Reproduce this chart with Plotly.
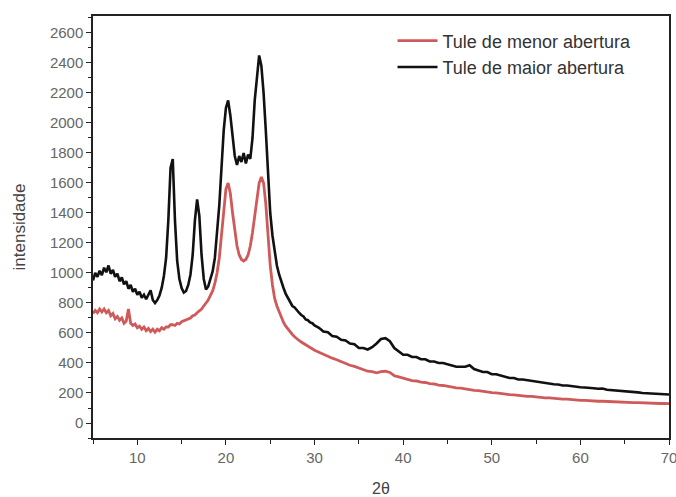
import plotly.graph_objects as go

two_theta = [
    5.00, 5.25, 5.50, 5.75, 6.00, 6.25, 6.50, 6.75, 7.00, 7.25, 7.50, 7.75,
    8.00, 8.25, 8.50, 8.75, 9.00, 9.25, 9.50, 9.75, 10.00, 10.25, 10.50, 10.75,
    11.00, 11.25, 11.50, 11.75, 12.00, 12.25, 12.50, 12.75, 13.00, 13.25, 13.50, 13.75,
    14.00, 14.25, 14.50, 14.75, 15.00, 15.25, 15.50, 15.75, 16.00, 16.25, 16.50, 16.75,
    17.00, 17.25, 17.50, 17.75, 18.00, 18.25, 18.50, 18.75, 19.00, 19.25, 19.50, 19.75,
    20.00, 20.25, 20.50, 20.75, 21.00, 21.25, 21.50, 21.75, 22.00, 22.25, 22.50, 22.75,
    23.00, 23.25, 23.50, 23.75, 24.00, 24.25, 24.50, 24.75, 25.00, 25.25, 25.50, 25.75,
    26.00, 26.25, 26.50, 26.75, 27.00, 27.25, 27.50, 27.75, 28.00, 28.25, 28.50, 28.75,
    29.00, 29.25, 29.50, 29.75, 30.00,
    30.5, 31.0, 31.5, 32.0, 32.5, 33.0, 33.5, 34.0, 34.5, 35.0, 35.5, 36.0,
    36.5, 37.0, 37.5, 38.0, 38.5, 39.0, 39.5, 40.0, 40.5, 41.0, 41.5, 42.0,
    42.5, 43.0, 43.5, 44.0, 44.5, 45.0, 45.5, 46.0, 46.5, 47.0, 47.5, 48.0,
    48.5, 49.0, 49.5, 50.0, 50.5, 51.0, 51.5, 52.0, 52.5, 53.0, 53.5, 54.0,
    54.5, 55.0, 55.5, 56.0, 56.5, 57.0, 57.5, 58.0, 58.5, 59.0, 59.5, 60.0,
    60.5, 61.0, 61.5, 62.0, 62.5, 63.0, 63.5, 64.0, 64.5, 65.0, 65.5, 66.0,
    66.5, 67.0, 67.5, 68.0, 68.5, 69.0, 69.5, 70.0,
]

maior_abertura = [
    950, 1000, 975, 1015, 985, 1035, 1005, 1050, 995, 1020, 975, 995,
    945, 970, 925, 945, 895, 920, 875, 895, 855, 875, 835, 855,
    825, 860, 885, 820, 800, 820, 850, 900, 980, 1100, 1350, 1700,
    1760, 1350, 1080, 960, 900, 870, 880, 920, 990, 1120, 1350, 1490,
    1380, 1120, 960, 890, 910, 960, 1010, 1100, 1250, 1450, 1700, 1950,
    2100, 2150, 2050, 1900, 1780, 1720, 1780, 1740, 1800, 1730, 1790, 1760,
    1900, 2150, 2300, 2450, 2380, 2200, 1950, 1650, 1400, 1250, 1130, 1050,
    990, 940, 900, 860, 830, 810, 780, 770, 750, 735, 720, 710,
    690, 685, 670, 665, 650,
    635, 610, 605, 580, 575, 555, 550, 530, 525, 500, 500, 490,
    505, 530, 560, 565, 545, 500, 475, 455, 455, 440, 440, 425,
    425, 410, 410, 400, 400, 390, 385, 375, 375, 375, 385, 360,
    350, 340, 340, 325, 325, 315, 310, 300, 300, 290, 290, 285,
    282, 275, 272, 265, 263, 258, 257, 250, 250, 245, 243, 238,
    237, 232, 232, 228, 230, 222, 220, 215, 214, 210, 209, 205,
    204, 200, 199, 196, 196, 193, 193, 190,
]

menor_abertura = [
    730, 750, 735, 760, 740, 760, 735, 750, 715, 730, 695, 710,
    685, 700, 665, 680, 760, 665, 650, 660, 635, 645, 625, 640,
    615, 630, 610, 625, 605, 625, 615, 635, 625, 640, 640, 655,
    655, 650, 665, 660, 675, 680, 690, 695, 700, 715, 720, 735,
    745, 760, 780, 800, 820, 850, 880, 930, 1000, 1100, 1250, 1420,
    1560, 1600, 1530, 1400, 1270, 1180, 1120, 1090, 1080, 1090, 1120, 1180,
    1270, 1380, 1500, 1600, 1640, 1600, 1460, 1250, 1050, 920, 830, 780,
    740, 700, 670, 645, 625, 605, 590, 575, 560, 550, 540, 530,
    520, 510, 500, 492, 485,
    472, 458, 448, 432, 422, 408, 398, 385, 377, 365, 357, 345,
    342, 335, 342, 345, 337, 315, 307, 298, 292, 283, 280, 272,
    270, 262, 260, 252, 250, 243, 240, 234, 232, 226, 224, 218,
    216, 210, 208, 202, 201, 196, 194, 189, 188, 183, 182, 177,
    177, 172, 172, 167, 167, 163, 163, 159, 159, 155, 155, 151,
    151, 148, 148, 145, 145, 143, 142, 140, 140, 138, 138, 136,
    136, 134, 134, 132, 132, 130, 131, 129,
]

series_names = ["Tule de menor abertura", "Tule de maior abertura"]

FONT = "Liberation Sans, Arial, sans-serif"

fig = go.Figure()
fig.add_trace(go.Scatter(x=two_theta, y=menor_abertura, mode="lines",
                         name=series_names[0],
                         line=dict(color="#d05a5a", width=2.8)))
fig.add_trace(go.Scatter(x=two_theta, y=maior_abertura, mode="lines",
                         name=series_names[1],
                         line=dict(color="#111111", width=2.6)))

axis_common = dict(
    showline=True, linecolor="#222222", linewidth=1.5, mirror=True,
    ticks="outside", ticklen=5, tickwidth=1.3, tickcolor="#222222",
    showgrid=False, zeroline=False, automargin=False,
    ticklabeloverflow="allow",
    tickfont=dict(family=FONT, size=15, color="#666666"),
)

fig.update_xaxes(range=[5, 70], tick0=0, dtick=10,
                 minor=dict(dtick=5, tick0=0, ticks="outside", ticklen=4,
                            tickcolor="#222222", tickwidth=1.3),
                 title=dict(text="2θ", font=dict(family=FONT, size=16, color="#444444"),
                            standoff=18),
                 **axis_common)
fig.update_yaxes(range=[-100, 2713], tick0=0, dtick=200,
                 minor=dict(dtick=100, tick0=0, ticks="outside", ticklen=3,
                            tickcolor="#222222", tickwidth=1.3),
                 title=dict(text="intensidade", font=dict(family=FONT, size=17, color="#444444"),
                            standoff=20),
                 **axis_common)

fig.update_layout(
    width=676, height=497,
    margin=dict(l=93, r=7, t=16, b=59),
    paper_bgcolor="white", plot_bgcolor="white",
    showlegend=True,
    legend=dict(x=0.52, y=0.985, xanchor="left", yanchor="top",
                bgcolor="rgba(0,0,0,0)", borderwidth=0,
                font=dict(family=FONT, size=18, color="#333333"),
                tracegroupgap=0, itemwidth=40),
)

fig.write_html("out.html")
